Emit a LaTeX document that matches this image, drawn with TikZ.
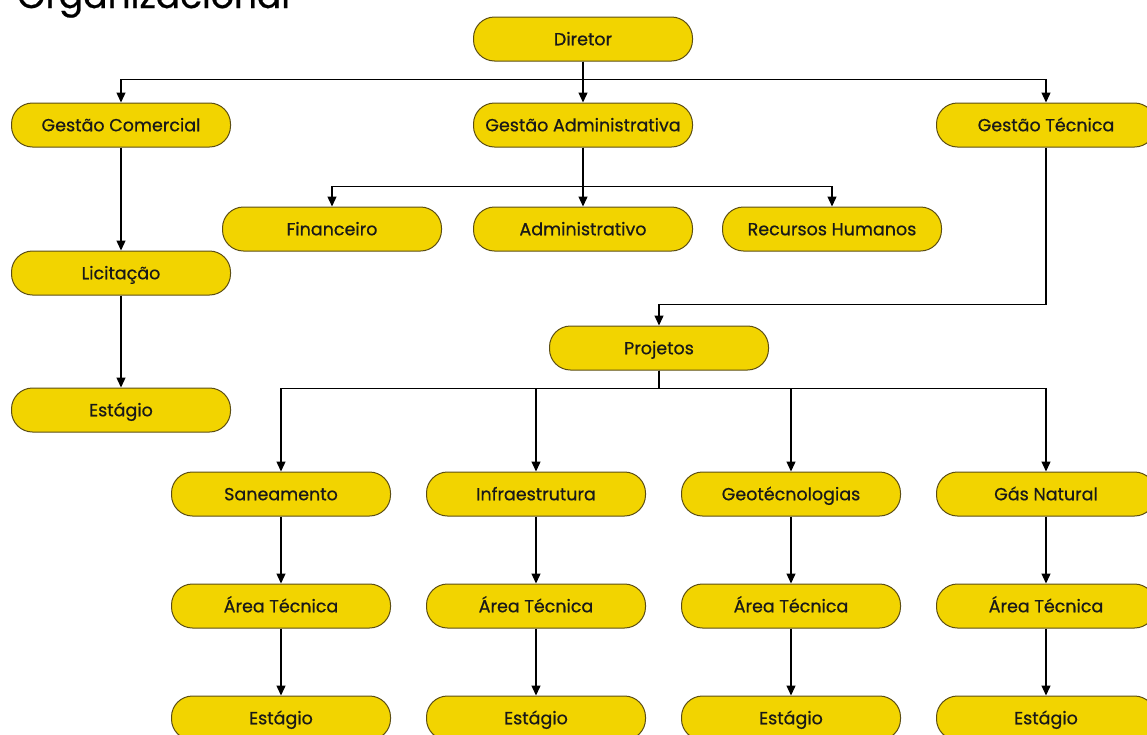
\documentclass[tikz,border=0pt]{standalone}
\usepackage{fontspec}
\setmainfont{Poppins}[FakeBold=0.6, UprightFont=*, BoldFont=*]
\usepackage{xcolor}
\usetikzlibrary{arrows.meta}
\definecolor{boxfill}{RGB}{242,212,0}
\definecolor{boxedge}{RGB}{92,78,20}

\begin{document}
\begin{tikzpicture}[
		x=1pt, y=-1pt,
		MyBox/.style={draw=boxedge, fill=boxfill, line width=1pt, rounded corners=21pt,
			minimum width=219pt, minimum height=44pt, inner sep=0pt,
			text height=12.5pt, text depth=0pt,
			font=\fontsize{17.5}{20}\selectfont\bfseries, text=black!90},
		MyArrow/.style={draw=black, line width=1.3pt, -{Triangle[length=10pt, width=9pt]}},
		MyLine/.style={draw=black, line width=1.3pt}
		]

		\useasboundingbox (0,0) rectangle (1147,734);
		\clip (0,0) rectangle (1147,734);

		% title, cut off at the top of the picture
		\node[anchor=base west, inner sep=0pt, font=\fontsize{36}{40}\selectfont\bfseries] (Title) at (17,8) {Organizacional};

		% first levels
		\node[MyBox] (Dir) at (583,39) {Diretor};
		\node[MyBox] (GC) at (121,125) {Gestão Comercial};
		\node[MyBox] (GA) at (583,125) {Gestão Administrativa};
		\node[MyBox] (GT) at (1046,125) {Gestão Técnica};

		\node[MyBox] (Fin) at (332,229) {Financeiro};
		\node[MyBox] (Adm) at (583,229) {Administrativo};
		\node[MyBox] (RH) at (832,229) {Recursos Humanos};

		\node[MyBox] (Lic) at (121,273) {Licitação};
		\node[MyBox] (EstC) at (121,410) {Estágio};

		\node[MyBox] (Proj) at (659,348) {Projetos};

		% project areas
		\node[MyBox] (San) at (281,494) {Saneamento};
		\node[MyBox] (Inf) at (536,494) {Infraestrutura};
		\node[MyBox] (Geo) at (791,494) {Geotécnologias};
		\node[MyBox] (Gas) at (1046,494) {Gás Natural};

		\node[MyBox] (AtS) at (281,606) {Área Técnica};
		\node[MyBox] (AtI) at (536,606) {Área Técnica};
		\node[MyBox] (AtG) at (791,606) {Área Técnica};
		\node[MyBox] (AtN) at (1046,606) {Área Técnica};

		\node[MyBox] (EsS) at (281,718) {Estágio};
		\node[MyBox] (EsI) at (536,718) {Estágio};
		\node[MyBox] (EsG) at (791,718) {Estágio};
		\node[MyBox] (EsN) at (1046,718) {Estágio};

		% connectors
		\draw[MyArrow] (Dir.south) -- (GA.north);
		\draw[MyArrow] (Dir.south) -- ++(0,18) -| (GC.north);
		\draw[MyArrow] (Dir.south) -- ++(0,18) -| (GT.north);

		\draw[MyArrow] (GA.south) -- (Adm.north);
		\draw[MyArrow] (GA.south) -- ++(0,39) -| (Fin.north);
		\draw[MyArrow] (GA.south) -- ++(0,39) -| (RH.north);

		\draw[MyArrow] (GC.south) -- (Lic.north);
		\draw[MyArrow] (Lic.south) -- (EstC.north);

		\draw[MyArrow] (GT.south) -- ++(0,157) -| (Proj.north);

		\draw[MyLine] (Proj.south) -- ++(0,18);
		\foreach \n in {San,Inf,Geo,Gas}
			\draw[MyArrow] (Proj.south) -- ++(0,18) -| (\n.north);

		\draw[MyArrow] (San.south) -- (AtS.north);
		\draw[MyArrow] (Inf.south) -- (AtI.north);
		\draw[MyArrow] (Geo.south) -- (AtG.north);
		\draw[MyArrow] (Gas.south) -- (AtN.north);

		\draw[MyArrow] (AtS.south) -- (EsS.north);
		\draw[MyArrow] (AtI.south) -- (EsI.north);
		\draw[MyArrow] (AtG.south) -- (EsG.north);
		\draw[MyArrow] (AtN.south) -- (EsN.north);

		\end{tikzpicture}
\end{document}
